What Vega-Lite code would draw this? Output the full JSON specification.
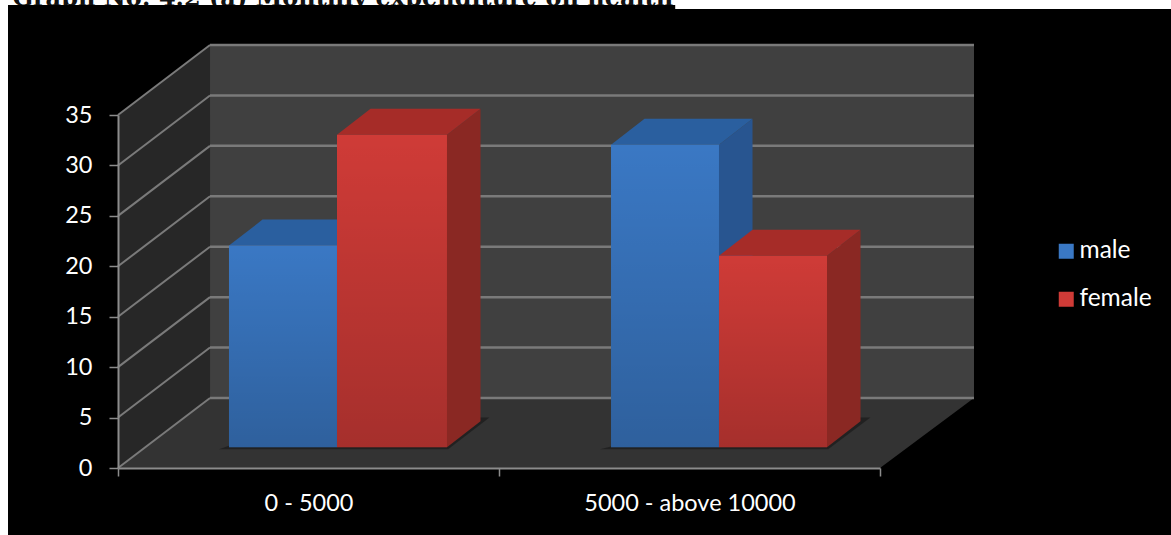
{
  "$schema": "https://vega.github.io/schema/vega-lite/v6.json",
  "width": 762,
  "height": 353,
  "autosize": {"type": "none"},
  "padding": {"left": 118, "top": 115, "right": 291, "bottom": 67},
  "background": "#ffffff",
  "config": {"view": {"stroke": null}, "style": {"cell": {"stroke": null}}},
  "datasets": {
    "backdrop": [
      {"across": -0.2887, "across2": 1.4625, "up": 45.9, "up2": -7},
      {"across": 1.46, "across2": 2.77, "up": 45.5, "up2": -7}
    ],
    "backWall": [{"across": 0.2415, "across2": 2.2467, "up": 6.94, "up2": 41.94}],
    "sideWall": [
      {"across": 0, "up": 0, "up2": 35},
      {"across": 0.2415, "up": 6.94, "up2": 41.94}
    ],
    "floor": [
      {"up": 0, "across": 0, "across2": 2},
      {"up": 6.94, "across": 0.2415, "across2": 2.2467}
    ],
    "backGrid": [
      {"across": 0.2415, "across2": 2.2467, "up": 6.94},
      {"across": 0.2415, "across2": 2.2467, "up": 11.94},
      {"across": 0.2415, "across2": 2.2467, "up": 16.94},
      {"across": 0.2415, "across2": 2.2467, "up": 21.94},
      {"across": 0.2415, "across2": 2.2467, "up": 26.94},
      {"across": 0.2415, "across2": 2.2467, "up": 31.94},
      {"across": 0.2415, "across2": 2.2467, "up": 36.94},
      {"across": 0.2415, "across2": 2.2467, "up": 41.94}
    ],
    "sideGrid": [
      {"across": 0, "across2": 0.2415, "up": 0, "up2": 6.94},
      {"across": 0, "across2": 0.2415, "up": 5, "up2": 11.94},
      {"across": 0, "across2": 0.2415, "up": 10, "up2": 16.94},
      {"across": 0, "across2": 0.2415, "up": 15, "up2": 21.94},
      {"across": 0, "across2": 0.2415, "up": 20, "up2": 26.94},
      {"across": 0, "across2": 0.2415, "up": 25, "up2": 31.94},
      {"across": 0, "across2": 0.2415, "up": 30, "up2": 36.94},
      {"across": 0, "across2": 0.2415, "up": 35, "up2": 41.94}
    ],
    "shadows": [
      {"bar": "a", "up": 1.85, "across": 0.265, "across2": 0.8665},
      {"bar": "a", "up": 5.0, "across": 0.5, "across2": 0.975},
      {"bar": "b", "up": 1.85, "across": 1.265, "across2": 1.864},
      {"bar": "b", "up": 5.0, "across": 1.6, "across2": 1.975}
    ],
    "sides": [
      {"sex": "male", "bar": "male 1", "across": 0.5748, "up": 2.05, "up2": 22.05},
      {"sex": "male", "bar": "male 1", "across": 0.6628, "up": 4.63, "up2": 24.63},
      {"sex": "male", "bar": "male 2", "across": 1.5774, "up": 2.05, "up2": 32.05},
      {"sex": "male", "bar": "male 2", "across": 1.6654, "up": 4.63, "up2": 34.63},
      {"sex": "female", "bar": "female 1", "across": 0.8635, "up": 2.05, "up2": 33.05},
      {"sex": "female", "bar": "female 1", "across": 0.9515, "up": 4.63, "up2": 35.63},
      {"sex": "female", "bar": "female 2", "across": 1.8609, "up": 2.05, "up2": 21.05},
      {"sex": "female", "bar": "female 2", "across": 1.9489, "up": 4.63, "up2": 23.63}
    ],
    "tops": [
      {"sex": "male", "bar": "male 1", "up": 22.05, "across": 0.2913, "across2": 0.5748},
      {"sex": "male", "bar": "male 1", "up": 24.63, "across": 0.3793, "across2": 0.6628},
      {"sex": "male", "bar": "male 2", "up": 32.05, "across": 1.294, "across2": 1.5774},
      {"sex": "male", "bar": "male 2", "up": 34.63, "across": 1.382, "across2": 1.6654},
      {"sex": "female", "bar": "female 1", "up": 33.05, "across": 0.5748, "across2": 0.8635},
      {"sex": "female", "bar": "female 1", "up": 35.63, "across": 0.6628, "across2": 0.9515},
      {"sex": "female", "bar": "female 2", "up": 21.05, "across": 1.5774, "across2": 1.8609},
      {"sex": "female", "bar": "female 2", "up": 23.63, "across": 1.6654, "across2": 1.9489}
    ],
    "fronts": [
      {"group": "0 - 5000", "sex": "male", "value": 20, "across": 0.2913, "across2": 0.5748, "up": 2.05, "up2": 22.05},
      {"group": "0 - 5000", "sex": "female", "value": 31, "across": 0.5748, "across2": 0.8635, "up": 2.05, "up2": 33.05},
      {"group": "5000 - above 10000", "sex": "male", "value": 30, "across": 1.294, "across2": 1.5774, "up": 2.05, "up2": 32.05},
      {"group": "5000 - above 10000", "sex": "female", "value": 19, "across": 1.5774, "across2": 1.8609, "up": 2.05, "up2": 21.05}
    ],
    "heading": [
      {"across": -0.277, "up": 45.85, "heading": "Graph No: 4.2 (a) Monthly expenditure on health"}
    ]
  },
  "encoding": {
    "x": {
      "field": "across",
      "type": "quantitative",
      "title": null,
      "scale": {"domain": [0, 2], "nice": false, "zero": false},
      "axis": {
        "values": [0, 0.5, 1, 1.5, 2],
        "zindex": 1,
        "grid": false,
        "title": null,
        "domainColor": "#8c8c8c",
        "domainWidth": 2,
        "tickColor": "#8c8c8c",
        "tickWidth": 1.5,
        "tickSize": 8,
        "tickOpacity": {"condition": {"test": "datum.value === 0.5 || datum.value === 1.5", "value": 0}, "value": 1},
        "labelExpr": "datum.value === 0.5 ? '0 - 5000' : datum.value === 1.5 ? '5000 - above 10000' : ''",
        "labelColor": "#ffffff",
        "labelFont": "Lato",
        "labelFontSize": 23.5,
        "labelPadding": 15,
        "labelLimit": 400,
        "labelOverlap": false,
        "labelBound": false,
        "labelFlush": false
      }
    },
    "y": {
      "field": "up",
      "type": "quantitative",
      "title": null,
      "scale": {"domain": [0, 35], "nice": false, "zero": false},
      "axis": {
        "values": [0, 5, 10, 15, 20, 25, 30, 35],
        "zindex": 1,
        "grid": false,
        "title": null,
        "domainColor": "#8c8c8c",
        "domainWidth": 2,
        "tickColor": "#8c8c8c",
        "tickWidth": 1.5,
        "tickSize": 9,
        "labelColor": "#ffffff",
        "labelFont": "Lato",
        "labelFontSize": 23.5,
        "labelPadding": 17,
        "labelOverlap": false
      }
    }
  },
  "layer": [
    {
      "data": {"name": "heading"},
      "mark": {"type": "text", "align": "left", "baseline": "alphabetic", "font": "DejaVu Serif", "fontWeight": "bold", "fontSize": 24, "color": "#111111"},
      "encoding": {"text": {"field": "heading"}}
    },
    {
      "data": {"name": "backdrop"},
      "mark": {"type": "rect", "color": "#000000"},
      "encoding": {"x2": {"field": "across2"}, "y2": {"field": "up2"}}
    },
    {
      "data": {"name": "backWall"},
      "mark": {"type": "rect", "color": "#404040"},
      "encoding": {"x2": {"field": "across2"}, "y2": {"field": "up2"}}
    },
    {
      "data": {"name": "sideWall"},
      "mark": {"type": "area", "color": "#272727", "opacity": 1},
      "encoding": {"y2": {"field": "up2"}}
    },
    {
      "data": {"name": "floor"},
      "mark": {"type": "area", "orient": "horizontal", "color": "#333333"},
      "encoding": {"x2": {"field": "across2"}}
    },
    {
      "data": {"name": "backGrid"},
      "mark": {"type": "rule", "color": "#7a7a7a", "strokeWidth": 2.5},
      "encoding": {"x2": {"field": "across2"}}
    },
    {
      "data": {"name": "sideGrid"},
      "mark": {"type": "rule", "color": "#7a7a7a", "strokeWidth": 2},
      "encoding": {"x2": {"field": "across2"}, "y2": {"field": "up2"}}
    },
    {
      "data": {"name": "shadows"},
      "mark": {"type": "area", "orient": "horizontal", "color": "#1c1c1c", "opacity": 0.75},
      "encoding": {"x2": {"field": "across2"}, "detail": {"field": "bar"}}
    },
    {
      "data": {"name": "sides"},
      "transform": [{"filter": "datum.sex === 'male'"}],
      "mark": {"type": "area", "color": "#285590"},
      "encoding": {"y2": {"field": "up2"}, "detail": {"field": "bar"}}
    },
    {
      "data": {"name": "tops"},
      "transform": [{"filter": "datum.sex === 'male'"}],
      "mark": {"type": "area", "orient": "horizontal", "color": "#2a5f9f"},
      "encoding": {"x2": {"field": "across2"}, "detail": {"field": "bar"}}
    },
    {
      "data": {"name": "sides"},
      "transform": [{"filter": "datum.sex === 'female'"}],
      "mark": {"type": "area", "color": "#8a2823"},
      "encoding": {"y2": {"field": "up2"}, "detail": {"field": "bar"}}
    },
    {
      "data": {"name": "tops"},
      "transform": [{"filter": "datum.sex === 'female'"}],
      "mark": {"type": "area", "orient": "horizontal", "color": "#a62c28"},
      "encoding": {"x2": {"field": "across2"}, "detail": {"field": "bar"}}
    },
    {
      "data": {"name": "fronts"},
      "mark": {"type": "rect"},
      "encoding": {
        "x2": {"field": "across2"},
        "y2": {"field": "up2"},
        "color": {
          "field": "sex",
          "type": "nominal",
          "scale": {"domain": ["male", "female"], "range": ["#3a78c4", "#cf3b37"]},
          "legend": {
            "title": null,
            "orient": "none",
            "legendX": 936,
            "legendY": 124,
            "padding": 0,
            "symbolType": "square",
            "symbolSize": 225,
            "symbolStrokeWidth": 0,
            "labelColor": "#ffffff",
            "labelFont": "Lato",
            "labelFontSize": 24.5,
            "labelOffset": 1,
            "rowPadding": 23
          }
        }
      }
    },
    {
      "data": {"name": "fronts"},
      "mark": {
        "type": "rect",
        "fill": {
          "gradient": "linear",
          "x1": 0, "y1": 0, "x2": 0, "y2": 1,
          "stops": [
            {"offset": 0, "color": "rgba(0,0,0,0)"},
            {"offset": 1, "color": "rgba(0,0,0,0.2)"}
          ]
        }
      },
      "encoding": {"x2": {"field": "across2"}, "y2": {"field": "up2"}}
    }
  ]
}
